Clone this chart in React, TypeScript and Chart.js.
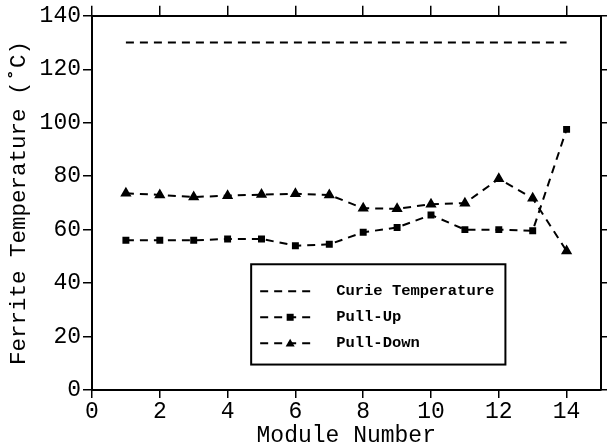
import React, { useEffect, useRef } from "react";
import { Chart, registerables } from "chart.js";

Chart.register(...registerables);

const modules = [1, 2, 3, 4, 5, 6, 7, 8, 9, 10, 11, 12, 13, 14];
const curieTemp = [130, 130, 130, 130, 130, 130, 130, 130, 130, 130, 130, 130, 130, 130];
const pullUp = [56, 56, 56, 56.5, 56.5, 54, 54.5, 59, 60.8, 65.5, 60, 60, 59.6, 97.5];
const pullDown = [73.6, 73, 72.2, 72.7, 73.1, 73.4, 73, 68, 67.8, 69.5, 69.9, 79, 71.7, 52];
const seriesNames = ["Curie Temperature", "Pull-Up", "Pull-Down"];
const xTitle = "Module Number";
const yTitle = "Ferrite Temperature (\u02DAC)";
const xTickValues = [0, 2, 4, 6, 8, 10, 12, 14];

const FONT = "'Liberation Mono', 'DejaVu Sans Mono', monospace";

const boxLegend = {
  id: "boxLegend",
  afterDraw(chart: any) {
    const { ctx, chartArea } = chart;
    const w = chartArea.right - chartArea.left;
    const h = chartArea.bottom - chartArea.top;
    const left = chartArea.left + w * 0.313;
    const right = chartArea.left + w * 0.813;
    const top = chartArea.top + h * 0.664;
    const bottom = chartArea.top + h * 0.932;
    ctx.save();
    ctx.strokeStyle = "#000";
    ctx.lineWidth = 2;
    ctx.strokeRect(left, top, right - left, bottom - top);
    const rowH = 26;
    const y0 = top + 27;
    chart.data.datasets.forEach((ds: any, i: number) => {
      const y = y0 + i * rowH;
      ctx.beginPath();
      ctx.setLineDash([8, 6]);
      ctx.lineWidth = 2;
      ctx.strokeStyle = "#000";
      ctx.moveTo(left + 9, y);
      ctx.lineTo(left + 65, y);
      ctx.stroke();
      ctx.setLineDash([]);
      if (ds.pointRadius > 0) {
        ctx.fillStyle = "#000";
        const cx = left + 39;
        const r = ds.pointRadius;
        if (ds.pointStyle === "rect") {
          ctx.fillRect(cx - r, y - r, 2 * r, 2 * r);
        } else {
          ctx.beginPath();
          ctx.moveTo(cx, y - r);
          ctx.lineTo(cx + r, y + r * 0.7);
          ctx.lineTo(cx - r, y + r * 0.7);
          ctx.closePath();
          ctx.fill();
        }
      }
      ctx.fillStyle = "#000";
      ctx.font = "bold 15.5px " + FONT;
      ctx.textBaseline = "middle";
      ctx.textAlign = "left";
      ctx.fillText(ds.label, left + 85, y);
    });
    ctx.restore();
  },
};

export default function App() {
  const ref = useRef<HTMLCanvasElement | null>(null);
  useEffect(() => {
    document.body.style.margin = "0";
    const toXY = (arr: number[]) => modules.map((m, i) => ({ x: m, y: arr[i] }));
    const common = {
      borderColor: "#000",
      backgroundColor: "#000",
      borderWidth: 2,
      borderDash: [8, 6],
      fill: false,
      tension: 0,
    };
    const setXTicks = (s: any) => {
      s.ticks = xTickValues.map((v) => ({ value: v }));
    };
    const chart = new Chart(ref.current as HTMLCanvasElement, {
      type: "line",
      data: {
        datasets: [
          { ...common, label: seriesNames[0], data: toXY(curieTemp), pointRadius: 0 },
          { ...common, label: seriesNames[1], data: toXY(pullUp), pointStyle: "rect", pointRadius: 3.5 },
          { ...common, label: seriesNames[2], data: toXY(pullDown), pointStyle: "triangle", pointRadius: 4.5 },
        ],
      } as any,
      options: {
        animation: false,
        responsive: true,
        maintainAspectRatio: false,
        layout: { padding: 0 },
        plugins: { legend: { display: false }, tooltip: { enabled: false } },
        scales: {
          x: {
            type: "linear",
            position: "bottom",
            min: 0,
            max: 15,
            ticks: { stepSize: 2, color: "#000", font: { family: FONT, size: 23 }, padding: 0, maxRotation: 0, autoSkip: false },
            grid: { drawOnChartArea: false, color: "#000", lineWidth: 1.5, tickLength: 8 },
            border: { display: true, color: "#000", width: 2 },
            title: { display: true, text: xTitle, color: "#000", font: { family: FONT, size: 23, lineHeight: 1 }, padding: { top: 0, bottom: 0 } },
            afterBuildTicks: setXTicks,
            afterFit: (s: any) => { s.height = 57; },
          },
          x2: {
            type: "linear",
            position: "top",
            min: 0,
            max: 15,
            ticks: { stepSize: 2, display: false, autoSkip: false },
            grid: { drawOnChartArea: false, color: "#000", lineWidth: 1.5, tickLength: 10 },
            border: { display: true, color: "#000", width: 2 },
            afterBuildTicks: setXTicks,
            afterFit: (s: any) => { s.height = 15; },
          },
          y: {
            type: "linear",
            position: "left",
            min: 0,
            max: 140,
            ticks: { stepSize: 20, color: "#000", font: { family: FONT, size: 23 }, padding: 2 },
            grid: { drawOnChartArea: false, color: "#000", lineWidth: 1.5, tickLength: 9 },
            border: { display: true, color: "#000", width: 2 },
            title: { display: true, text: yTitle, color: "#000", font: { family: FONT, size: 22.5, lineHeight: 1 }, padding: { top: 8, bottom: 0 } },
            afterFit: (s: any) => { s.width = 92; },
          },
          y2: {
            type: "linear",
            position: "right",
            min: 0,
            max: 140,
            ticks: { stepSize: 20, display: false },
            grid: { drawOnChartArea: false, color: "#000", lineWidth: 1.5, tickLength: 8 },
            border: { display: true, color: "#000", width: 2 },
            afterFit: (s: any) => { s.width = 5; },
          },
        },
      } as any,
      plugins: [boxLegend],
    });
    return () => chart.destroy();
  }, []);
  return (
    <div style={{ width: 607, height: 447, position: "relative" }}>
      <canvas ref={ref} />
    </div>
  );
}
